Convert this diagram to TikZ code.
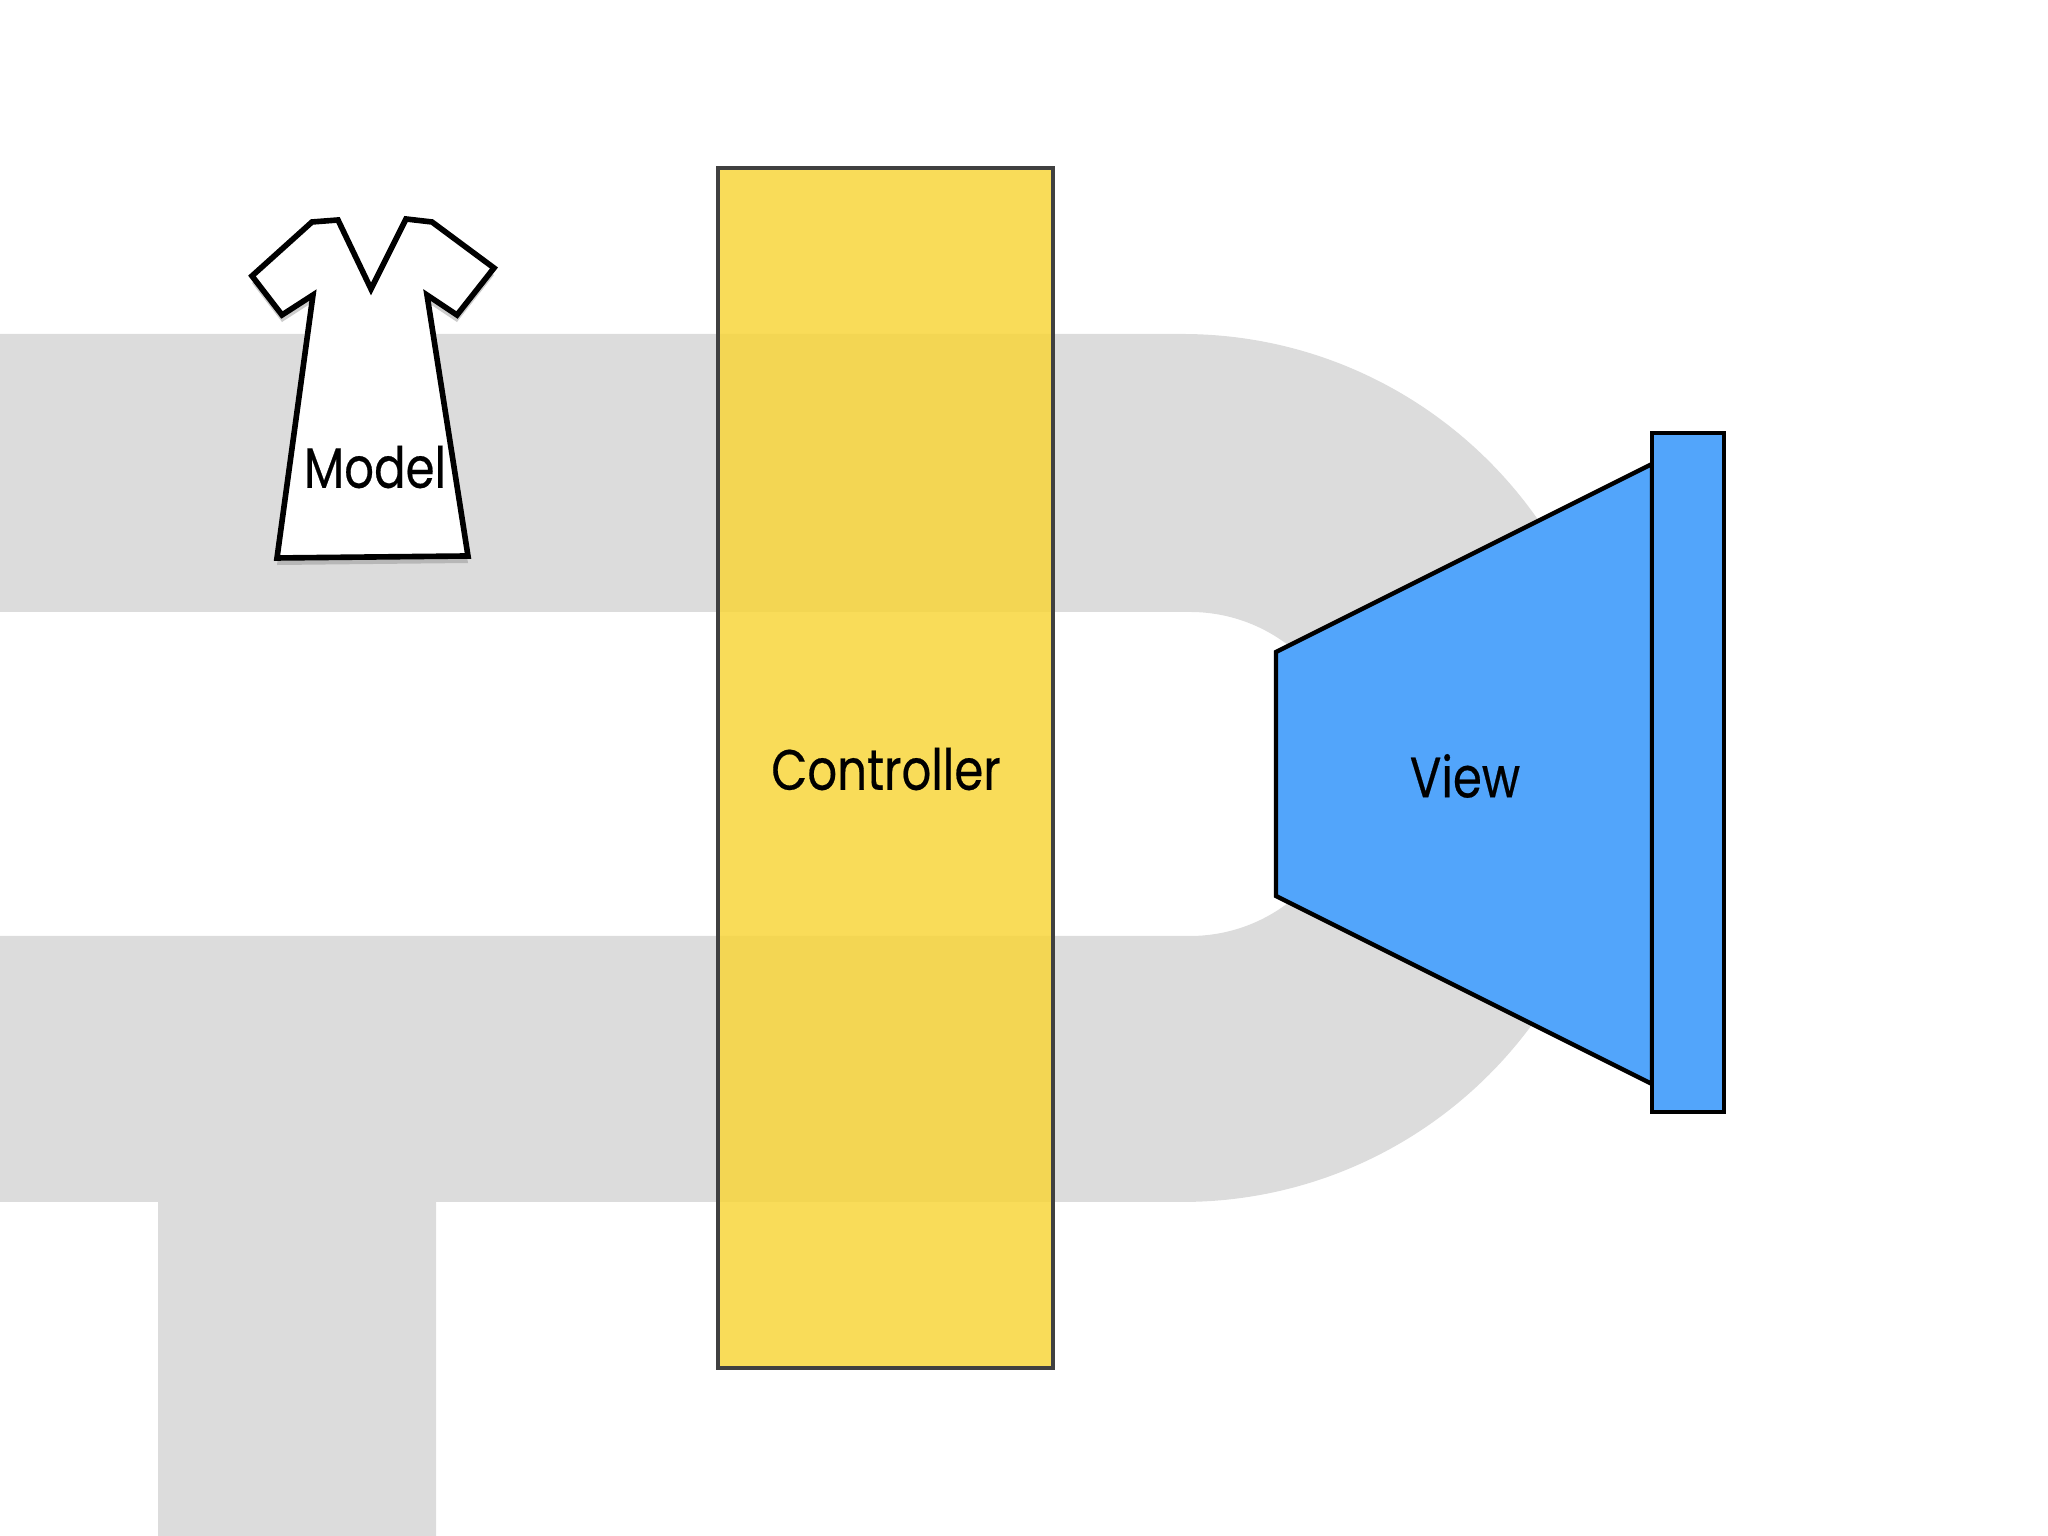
\documentclass[tikz,border=0pt]{standalone}
\usepackage{fontspec}
\setmainfont[FakeStretch=0.82,FakeBold=0.35]{Poppins}
\usetikzlibrary{shadows}
\definecolor{pipegray}{HTML}{DCDCDC}
\definecolor{ctrlyellow}{HTML}{F8D63C}
\definecolor{viewblue}{HTML}{52A5FB}
\tikzset{
  label/.style={font=\fontsize{16.2}{20}\selectfont,text=black},
  outline/.style={draw=black,line width=1.25pt,line join=miter}
}

\begin{document}
\begin{tikzpicture}
      \useasboundingbox (0,0) rectangle (20.48,15.36);
      \fill[pipegray] (0,12.02) -- (11.82,12.02) arc[start angle=90,end angle=-90,radius=4.34]
        -- (4.36,3.34) -- (4.36,0) -- (1.58,0) -- (1.58,3.34) -- (0,3.34) -- (0,6.00) -- (11.9,6.00)
        arc[start angle=-90,end angle=90,radius=1.62] -- (0,9.24) -- cycle;
      \draw[outline,line width=1.6pt,fill=white,drop shadow={shadow xshift=0pt,shadow yshift=-2pt,opacity=0.4}]
        (2.52,12.60) -- (3.12,13.14) -- (3.38,13.16) -- (3.71,12.47) -- (4.06,13.17) -- (4.32,13.14)
        -- (4.94,12.68) -- (4.57,12.21) -- (4.27,12.41) -- (4.68,9.80) -- (2.77,9.78) -- (3.13,12.41)
        -- (2.82,12.21) -- cycle;
      \draw[draw=black!75,line width=1.3pt,fill=ctrlyellow,fill opacity=0.85] (7.18,1.68) rectangle (10.53,13.68);
      \draw[outline,fill=viewblue] (12.76,8.84) -- (16.52,10.72) -- (16.52,4.52) -- (12.76,6.40) -- cycle;
      \draw[outline,fill=viewblue] (16.52,4.24) rectangle (17.24,11.03);
      \node[label] (model) at (3.75,10.69) {Model};
      \node[label] (controller) at (8.86,7.67) {Controller};
      \node[label] (view) at (14.65,7.60) {View};
\end{tikzpicture}
\end{document}
